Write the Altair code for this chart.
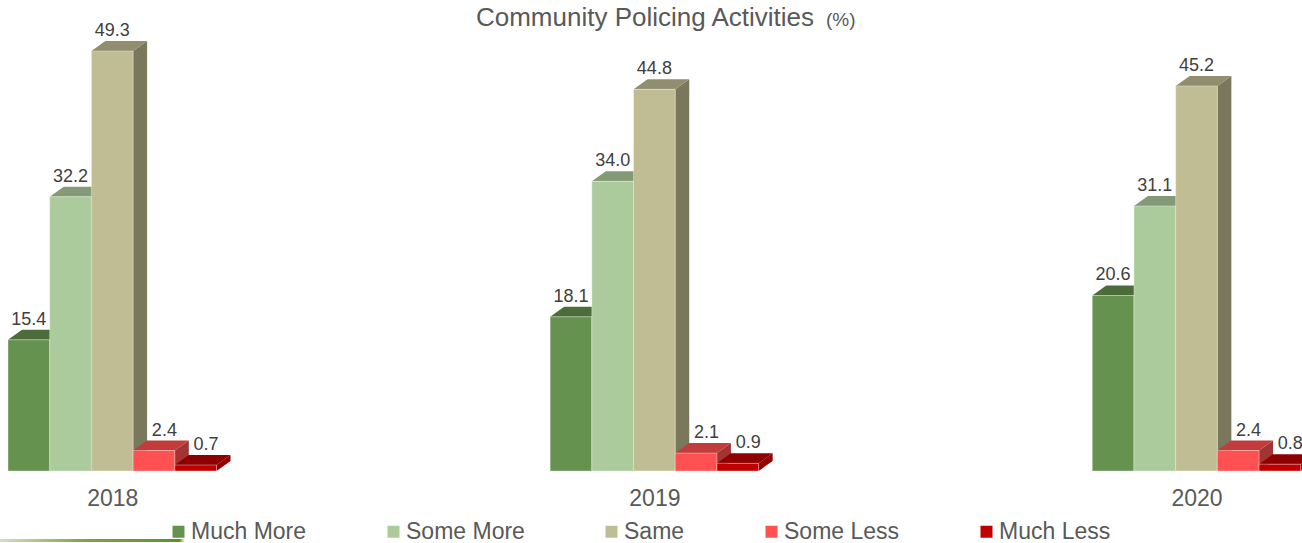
import json
import altair as alt
import pandas as pd

# ---- data ----
years = ["2018", "2019", "2020"]
series = ["Much More", "Some More", "Same", "Some Less", "Much Less"]
much_more = [15.4, 18.1, 20.6]
some_more = [32.2, 34.0, 31.1]
same = [49.3, 44.8, 45.2]
some_less = [2.4, 2.1, 2.4]
much_less = [0.7, 0.9, 0.8]

front_colors = ["#66924f", "#accb9c", "#c0bd94", "#ff5151", "#c00000"]
top_colors = ["#4d6c3b", "#849a77", "#908e6e", "#c23c3c", "#8e0000"]
side_colors = ["#45622f", "#75896a", "#7a785c", "#a23434", "#940000"]

# ---- layout parameters (in scale units) ----
GROUP_STEP = 13.0   # distance between year groups, in bar widths
DX = 0.336          # 3D depth, horizontal (bar widths)
DY = 1.174          # 3D depth, vertical (value units)
LABEL_SHIFT = 0.25  # label nudge when the bar to the left is taller
X_DOMAIN = [-0.192, 31.03]
Y_DOMAIN = [0, 50.59]
W, H = 1302, 431
FONT = "Liberation Sans"
TXT = "#595959"

values = [much_more, some_more, same, some_less, much_less]
rows, side_rows, top_rows = [], [], []
for gi, yr in enumerate(years):
    for si, s in enumerate(series):
        v = values[si][gi]
        left = gi * GROUP_STEP + si
        right = left + 1
        bar = f"{yr}-{s}"
        prev_taller = si > 0 and values[si - 1][gi] > v
        rows.append(dict(year=yr, series=s, value=v, left=left, right=right,
                         labx=left + 0.5 + (LABEL_SHIFT if prev_taller else 0.0),
                         zero=0.0, ylab=v + DY, bar=bar))
        c = side_colors[si]
        side_rows += [dict(bar=bar, x=right, y=v, y2=0.0, c=c),
                      dict(bar=bar, x=right + DX, y=v + DY, y2=DY, c=c)]
        c = top_colors[si]
        top_rows += [dict(bar=bar, x=left, y=v, y2=v, c=c),
                     dict(bar=bar, x=left + DX, y=v + DY, y2=v, c=c),
                     dict(bar=bar, x=right, y=v + DY, y2=v, c=c),
                     dict(bar=bar, x=right + DX, y=v + DY, y2=v + DY, c=c)]

bars = pd.DataFrame(rows)
sides = pd.DataFrame(side_rows)
tops = pd.DataFrame(top_rows)

xs = alt.Scale(domain=X_DOMAIN, nice=False, zero=False)
ys = alt.Scale(domain=Y_DOMAIN, nice=False, zero=False)

tick_vals = [gi * GROUP_STEP + 2.5 for gi in range(len(years))]
label_expr = f"{json.dumps(years)}[round((datum.value - 2.5) / {GROUP_STEP})]"
x_axis = alt.Axis(values=tick_vals, labelExpr=label_expr, domain=False, ticks=False,
                  tickSize=0, grid=False, labelFontSize=23, labelColor=TXT,
                  labelFont=FONT, labelPadding=16, labelFlush=False, title=None)

side_layer = alt.Chart(sides).mark_area(orient="vertical", interpolate="linear").encode(
    x=alt.X("x:Q", scale=xs, axis=x_axis, title=None),
    y=alt.Y("y:Q", scale=ys, axis=None, stack=None),
    y2="y2:Q",
    fill=alt.Fill("c:N", scale=None),
    detail="bar:N",
)

top_layer = alt.Chart(tops).mark_area(orient="vertical", interpolate="linear").encode(
    x=alt.X("x:Q", scale=xs, axis=x_axis, title=None),
    y=alt.Y("y:Q", scale=ys, axis=None, stack=None),
    y2="y2:Q",
    fill=alt.Fill("c:N", scale=None),
    detail="bar:N",
)

front_layer = alt.Chart(bars).mark_rect(stroke="#ffffff", strokeOpacity=0.35, strokeWidth=1).encode(
    x=alt.X("left:Q", scale=xs, axis=x_axis, title=None),
    x2="right:Q",
    y=alt.Y("value:Q", scale=ys, axis=None),
    y2="zero:Q",
    color=alt.Color("series:N", sort=series,
                    scale=alt.Scale(domain=series, range=front_colors),
                    legend=alt.Legend(title=None, orient="none", direction="horizontal",
                                      legendX=167, legendY=480, padding=0,
                                      columnPadding=75, labelOffset=1,
                                      symbolType="square", symbolSize=144,
                                      symbolStrokeWidth=0, labelFontSize=23,
                                      labelFont=FONT, labelColor=TXT)),
)

labels = alt.Chart(bars).mark_text(baseline="alphabetic", dy=-5, fontSize=18,
                                   font=FONT, color="#404040").encode(
    x=alt.X("labx:Q", scale=xs, axis=x_axis, title=None),
    y=alt.Y("ylab:Q", scale=ys, axis=None),
    text=alt.Text("value:Q", format=".1f"),
)

title_df = pd.DataFrame({"t": ["Community Policing Activities"]})
title_main = alt.Chart(title_df).mark_text(
    align="center", baseline="alphabetic", fontSize=26, font=FONT, color=TXT).encode(
    x=alt.value(645), y=alt.value(-14), text="t:N")

pct = alt.Chart(pd.DataFrame({"t": ["(%)"]})).mark_text(
    align="left", baseline="alphabetic", fontSize=19, font=FONT, color=TXT).encode(
    x=alt.value(826), y=alt.value(-14), text="t:N")

deco = alt.Chart(pd.DataFrame({"t": ["line"]})).mark_rect(
    fill={"gradient": "linear", "x1": 0, "x2": 1, "y1": 0, "y2": 0,
          "stops": [{"offset": 0, "color": "#d5dfc6"},
                    {"offset": 0.45, "color": "#7da447"},
                    {"offset": 0.97, "color": "#5f9128"},
                    {"offset": 1, "color": "#ffffff"}]}).encode(
    x=alt.value(0), x2=alt.value(185), y=alt.value(499), y2=alt.value(502))

chart = alt.layer(side_layer, top_layer, front_layer, labels, title_main, pct, deco).properties(
    width=W, height=H,
    autosize=alt.AutoSizeParams(type="none"),
    padding={"left": 0, "top": 40, "right": 0, "bottom": 543 - 40 - H},
).configure(background="white").configure_view(stroke=None)

chart.save("out.html", embed_options={"renderer": "svg", "actions": False})
